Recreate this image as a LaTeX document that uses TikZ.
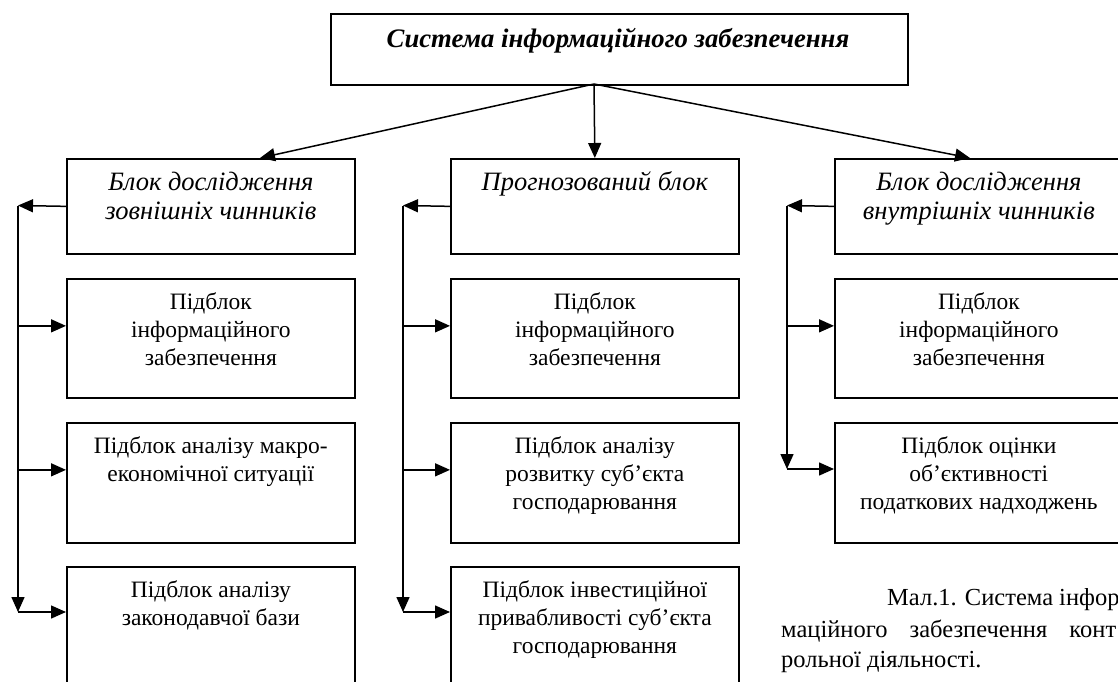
\documentclass[tikz,border=0pt]{standalone}
\usepackage{fontspec}
\setmainfont{Liberation Serif}
\usetikzlibrary{arrows.meta}
\begin{document}
\begin{tikzpicture}[x=1pt,y=-1pt,
  box/.style={draw, line width=1.7pt, minimum width=288pt, inner sep=0pt, anchor=north west},
  txt/.style={anchor=north, inner sep=0pt, align=center, font=\fontsize{23.5}{28}\selectfont},
  itx/.style={txt, font=\fontsize{26.5}{29}\selectfont\itshape},
  arr/.style={line width=1.5pt, -{Triangle[length=15pt,width=13pt]}},
  captext/.style={anchor=base west, inner sep=0pt, font=\fontsize{24.5}{31}\selectfont}
]
\useasboundingbox (0,0) rectangle (1118,682);
\clip (0,0) rectangle (1118,682);

% top box
\node[box, minimum width=577pt, minimum height=71pt] (top) at (330,13) {};
\node[inner sep=0pt, anchor=base, font=\fontsize{26.7}{30}\selectfont\bfseries\itshape] (toptxt) at (618,48) {Система інформаційного забезпечення};

% left column
\node[box, minimum height=95pt]  (l1) at (66,158) {};
\node[box, minimum height=119pt] (l2) at (66,278) {};
\node[box, minimum height=120pt] (l3) at (66,422) {};
\node[box, minimum height=140pt] (l4) at (66,566) {};
% middle column
\node[box, minimum height=95pt]  (m1) at (450,158) {};
\node[box, minimum height=119pt] (m2) at (450,278) {};
\node[box, minimum height=120pt] (m3) at (450,422) {};
\node[box, minimum height=140pt] (m4) at (450,566) {};
% right column
\node[box, minimum height=95pt]  (r1) at (834,158) {};
\node[box, minimum height=119pt] (r2) at (834,278) {};
\node[box, minimum height=120pt] (r3) at (834,422) {};

% texts
\node[itx] (l1t) at ([yshift=-11pt]l1.north) {\rule{0pt}{21pt}Блок дослідження\\зовнішніх чинників};
\node[txt] (l2t) at ([yshift=-11pt]l2.north) {\rule{0pt}{20pt}Підблок\\інформаційного\\забезпечення};
\node[txt] (l3t) at ([yshift=-11pt]l3.north) {\rule{0pt}{20pt}Підблок аналізу макро-\\економічної ситуації};
\node[txt] (l4t) at ([yshift=-11pt]l4.north) {\rule{0pt}{20pt}Підблок аналізу\\законодавчої бази};
\node[itx] (m1t) at ([yshift=-11pt]m1.north) {\rule{0pt}{21pt}Прогнозований блок};
\node[txt] (m2t) at ([yshift=-11pt]m2.north) {\rule{0pt}{20pt}Підблок\\інформаційного\\забезпечення};
\node[txt] (m3t) at ([yshift=-11pt]m3.north) {\rule{0pt}{20pt}Підблок аналізу\\розвитку суб’єкта\\господарювання};
\node[txt] (m4t) at ([yshift=-11pt]m4.north) {\rule{0pt}{20pt}Підблок інвестиційної\\привабливості суб’єкта\\господарювання};
\node[itx] (r1t) at ([yshift=-11pt]r1.north) {\rule{0pt}{21pt}Блок дослідження\\внутрішніх чинників};
\node[txt] (r2t) at ([yshift=-11pt]r2.north) {\rule{0pt}{20pt}Підблок\\інформаційного\\забезпечення};
\node[txt] (r3t) at ([yshift=-11pt]r3.north) {\rule{0pt}{20pt}Підблок оцінки\\об’єктивності\\податкових надходжень};

% top connectors
\coordinate (hub) at (594,84);
\draw[arr] (hub) -- ([xshift=194pt]l1.north west);
\draw[arr] (hub) -- (m1.north);
\draw[arr] (hub) -- ([xshift=136pt]r1.north west);

% left column connectors
\coordinate (la) at (18,205.5);
\coordinate (lb) at (18,612);
\coordinate (l2in) at ([yshift=12.5pt]l2.west);
\coordinate (l3in) at ([yshift=13pt]l3.west);
\coordinate (l4in) at ([yshift=-46pt]l4.north west);
\draw[arr] (l1.west) -- (la);
\draw[arr] (la) -- (lb);
\draw[arr] (la |- l2in) -- (l2in);
\draw[arr] (la |- l3in) -- (l3in);
\draw[arr] (lb) -- (l4in);

% middle column connectors
\coordinate (ma) at (403,205.5);
\coordinate (mb) at (403,612);
\coordinate (m2in) at ([yshift=12.5pt]m2.west);
\coordinate (m3in) at ([yshift=13pt]m3.west);
\coordinate (m4in) at ([yshift=-46pt]m4.north west);
\draw[arr] (m1.west) -- (ma);
\draw[arr] (ma) -- (mb);
\draw[arr] (ma |- m2in) -- (m2in);
\draw[arr] (ma |- m3in) -- (m3in);
\draw[arr] (mb) -- (m4in);

% right column connectors
\coordinate (ra) at (787,205.5);
\coordinate (rb) at (787,469);
\coordinate (r2in) at ([yshift=12.5pt]r2.west);
\draw[arr] (r1.west) -- (ra);
\draw[arr] (ra) -- (rb);
\draw[arr] (ra |- r2in) -- (r2in);
\draw[arr] (rb) -- (rb -| r3.west);

% caption
\node[captext] (c1) at (887,605) {Мал.1. Система інфор};
\node[captext] (c2) at (781,637) {\hbox to 335pt{маційного\hfill забезпечення\hfill конт}};
\node[captext] (c3) at (781,667) {рольної діяльності.};
\end{tikzpicture}
\end{document}
